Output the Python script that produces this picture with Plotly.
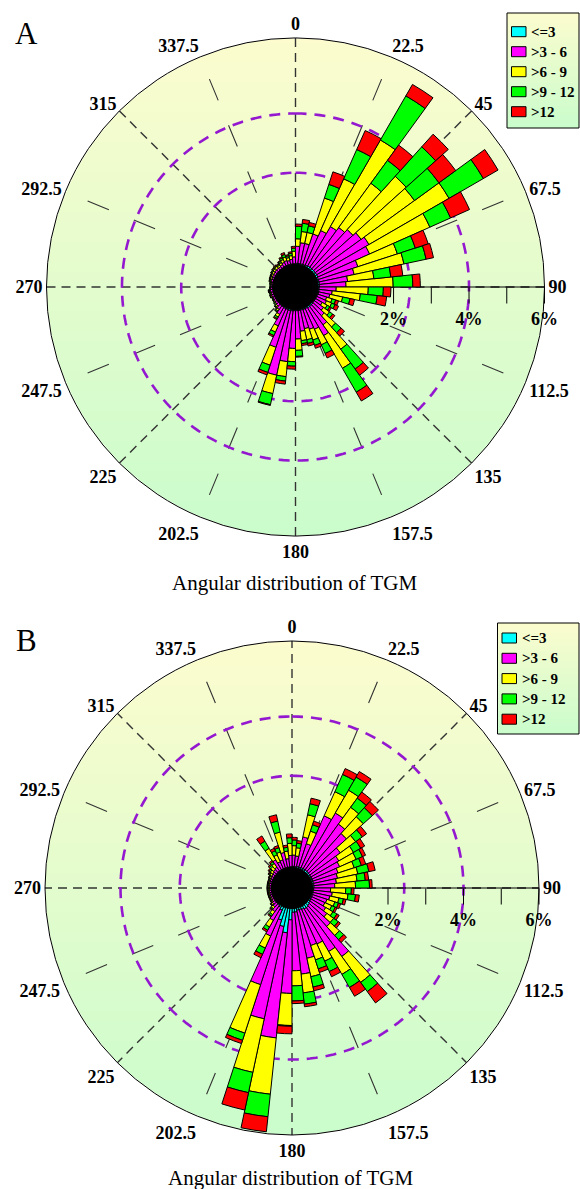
import zlib, struct, base64
import numpy as np
import plotly.graph_objects as go

W, H = 580, 1189

# ---------------- data (percent of observations per 6-degree sector) ----------------
theta = [3, 9, 15, 21, 27, 33, 39, 45, 51, 57, 63, 69, 75, 81, 87,
         93, 99, 105, 111, 117, 123, 129, 135, 141, 147, 153, 159, 165, 171, 177,
         183, 189, 195, 201, 207, 213, 219, 225, 231, 237, 243, 249, 255, 261, 267,
         273, 279, 285, 291, 297, 303, 309, 315, 321, 327, 333, 339, 345, 351, 357]

series_names = ["<=3", ">3 - 6", ">6 - 9", ">9 - 12", ">12"]
series_colors = ["#00FFFF", "#FF00FF", "#FFFF00", "#00FF00", "#FF0000"]

A_le3 = [.03, .03, .03, .03, .04, .05, .05, .05, .05, .05, .05, .04, .04, .04, .04,
         .03, .03, .03, .02, .02, .02, .02, .03, .04, .04, .03, .03, .03, .03, .03,
         .03, .04, .04, .03, .03, .02, .02, .01, .01, .01, .01, .01, .01, .01, .01,
         .01, .01, .01, .01, .01, .01, .01, .01, .01, .01, .02, .02, .02, .02, .02]
A_3_6 = [.45, .55, .55, .85, 1.0, 1.2, 1.3, 1.4, 1.5, 1.6, 1.5, 1.1, .95, .75, .7,
         .45, .35, .3, .25, .28, .2, .3, .4, .6, .85, .6, .55, .5, .55, .75,
         1.0, 1.35, 1.75, 1.05, .5, .22, .12, .08, .06, .05, .05, .06, .05, .06, .05,
         .04, .04, .05, .05, .06, .06, .07, .07, .06, .08, .1, .12, .1, .12, .18]
A_6_9 = [.2, .3, .3, 1.0, 1.5, 2.65, 1.45, 1.9, 1.75, 2.45, 1.75, 1.1, 1.35, .7, 1.25,
         .85, .75, .35, .15, .15, .15, .2, .4, .8, 1.0, .45, .3, .3, .25, .3,
         .35, .4, .5, .5, .18, .08, .05, .04, .03, .03, .02, .03, .03, .03, .02,
         .02, .03, .03, .04, .04, .05, .05, .06, .05, .06, .08, .1, .08, .1, .15]
A_9_12 = [.33, .22, .18, .38, .85, 1.35, .75, 1.05, .8, 1.05, .6, .5, .6, .45, .52,
          .4, .45, .2, .1, .1, .08, .1, .2, .65, .73, .25, .15, .1, .08, .16,
          .12, .12, .3, .2, .1, .05, .03, .02, .02, .01, .01, .01, .02, .02, .01,
          .01, .01, .02, .02, .02, .03, .03, .03, .03, .04, .05, .07, .05, .06, .08]
A_gt12 = [.06, .1, .09, .35, .55, .35, .5, .45, .55, .45, .55, .36, .2, .32, .2,
          .2, .25, .12, .08, .1, .05, .07, .12, .2, .27, .13, .08, .07, .05, .02,
          .08, .08, .02, .07, .04, .03, .01, .01, 0, 0, 0, .01, 0, .01, 0,
          0, 0, .01, .01, .01, .01, .02, .02, .02, .02, .03, .05, .03, .04, .05]

B_le3 = [.03, .03, .04, .04, .05, .05, .05, .05, .04, .04, .04, .04, .04, .04, .04,
         .03, .03, .03, .03, .03, .04, .05, .08, .1, .1, .08, .06, .06, .1, .1,
         .3, .65, .5, .35, .1, .05, .03, .02, .02, .01, .01, .01, .01, .01, .01,
         .01, .01, .01, .01, .01, .01, .01, .02, .02, .02, .02, .02, .02, .02, .02]
B_3_6 = [.3, .28, .8, .65, 1.5, 1.7, 1.5, 1.35, 1.0, .85, .8, .7, .65, .6, .55,
         .45, .5, .45, .4, .38, .45, .55, .75, 1.6, 1.3, 1.0, 1.0, 1.3, 1.65, 1.55,
         1.95, 2.8, 2.5, 1.8, .75, .4, .2, .12, .08, .06, .05, .05, .05, .05, .05,
         .05, .05, .05, .05, .06, .07, .08, .1, .12, .3, .2, .22, .4, .22, .3]
B_6_9 = [.25, .22, .6, .35, .7, .7, .55, .6, .5, .45, .48, .45, .55, .55, .55,
         .4, .42, .25, .22, .2, .22, .22, .32, .85, .7, .5, .4, .5, .5, .4,
         .85, 1.5, 1.45, 1.35, .35, .2, .1, .06, .04, .03, .03, .03, .03, .03, .03,
         .03, .03, .03, .03, .04, .06, .08, .1, .12, .35, .2, .22, .55, .2, .32]
B_9_12 = [.15, .12, .3, .18, .5, .4, .3, .32, .22, .22, .18, .2, .3, .22, .37,
          .15, .2, .12, .1, .1, .12, .15, .15, .3, .4, .3, .25, .28, .3, .4,
          .02, .6, .55, .2, .18, .1, .05, .03, .02, .02, .02, .02, .02, .02, .02,
          .02, .02, .02, .02, .02, .03, .04, .05, .06, .22, .12, .12, .3, .1, .15]
B_gt12 = [.07, .07, .15, .1, .17, .17, .2, .22, .14, .12, .09, .12, .17, .09, .07,
          .07, .1, .07, .06, .05, .07, .07, .1, .37, .27, .15, .1, .1, .07, .07,
          .2, .4, .47, .09, .1, .05, .03, .02, .01, .01, .01, .01, .01, .01, .01,
          .01, .01, .01, .01, .01, .02, .03, .03, .04, .16, .07, .06, .17, .06, .1]

angle_ticks = [0, 22.5, 45, 67.5, 90, 112.5, 135, 157.5, 180, 202.5, 225, 247.5,
               270, 292.5, 315, 337.5]
angle_labels = ["0", "22.5", "45", "67.5", "90", "112.5", "135", "157.5", "180",
                "202.5", "225", "247.5", "270", "292.5", "315", "337.5"]
radial_ticks = [2, 3, 4, 5, 6]
radial_labels = ["2%", "", "4%", "", "6%"]
guide_circles = [2.43, 4.0]
panel_letters = ["A", "B"]
x_title = "Angular distribution of TGM"

# ---------------- helpers ----------------
def png_uri(img):
    h, w, _ = img.shape
    raw = b"".join(b"\x00" + img[y].tobytes() for y in range(h))

    def chunk(tag, data):
        return (struct.pack(">I", len(data)) + tag + data +
                struct.pack(">I", zlib.crc32(tag + data) & 0xffffffff))

    png = (b"\x89PNG\r\n\x1a\n" +
           chunk(b"IHDR", struct.pack(">IIBBBBB", w, h, 8, 6, 0, 0, 0)) +
           chunk(b"IDAT", zlib.compress(raw, 9)) + chunk(b"IEND", b""))
    return "data:image/png;base64," + base64.b64encode(png).decode()


TOP = (252, 252, 206)
BOT = (202, 252, 204)


def gradient(w, h, circle):
    yy, xx = np.mgrid[0:h, 0:w] + 0.5
    t = yy / h
    img = np.zeros((h, w, 4), np.uint8)
    for k in range(3):
        img[..., k] = np.round(TOP[k] + (BOT[k] - TOP[k]) * t).astype(np.uint8)
    if circle:
        c = w / 2.0
        d = np.hypot(xx - c, yy - c)
        img[..., 3] = np.round(np.clip(c - d, 0, 1) * 255).astype(np.uint8)
    else:
        img[..., 3] = 255
    return img


circle_img = png_uri(gradient(500, 500, True))
box_img = png_uri(gradient(40, 120, False))


def px(x):
    return x / W


def py(y):
    return 1 - y / H


panels = [
    dict(under="polar", top="polar2", cx=295.5, cy=287, R=249, zero=22.6,
         data=[A_le3, A_3_6, A_6_9, A_9_12, A_gt12], legend=(507, 579, 13, 128, 31.7, 20.0),
         letter_y=34, title_y=583),
    dict(under="polar3", top="polar4", cx=292, cy=888, R=247, zero=20.5,
         data=[B_le3, B_3_6, B_6_9, B_9_12, B_gt12], legend=(497.5, 579, 623, 734, 638, 20.3),
         letter_y=640, title_y=1178),
]

fig = go.Figure()
shapes, annotations, images = [], [], []
layout_polars = {}
label_font = dict(family="Liberation Serif", size=18, color="black", weight="bold")

for p_i, P in enumerate(panels):
    scale = (P["R"] - P["zero"]) / 6.0      # px per percent
    rmin = -P["zero"] / scale
    under, top = P["under"], P["top"]

    # ---- underlay subplot: guide lines drawn beneath the bars ----
    rr, tt = [], []
    for a in range(0, 360, 45):
        rr += [rmin, 6, None]
        tt += [a, a, None]
    fig.add_trace(go.Scatterpolar(r=rr, theta=tt, mode="lines", subplot=under,
                                  line=dict(color="#333333", width=1.4, dash="9px,6px"),
                                  hoverinfo="skip", showlegend=False))
    r_out = (225 * P["R"] / 249 - P["zero"]) / scale
    rr, tt = [], []
    for a in [22.5, 67.5, 112.5, 157.5, 202.5, 247.5, 292.5, 337.5]:
        rr += [r_out, rmin, None]
        tt += [a, a, None]
    fig.add_trace(go.Scatterpolar(r=rr, theta=tt, mode="lines", subplot=under,
                                  line=dict(color="#333333", width=1.1, dash="23px,27px"),
                                  hoverinfo="skip", showlegend=False))
    circ_t = list(np.arange(0, 361, 2.0))
    for gc in guide_circles:
        fig.add_trace(go.Scatterpolar(r=[gc] * len(circ_t), theta=circ_t, mode="lines",
                                      subplot=under,
                                      line=dict(color="#9318CF", width=2.6, dash="11px,8px"),
                                      hoverinfo="skip", showlegend=False))

    # ---- top subplot: bars, core and axes ----
    for k in range(5):
        fig.add_trace(go.Barpolar(r=P["data"][k], theta=theta, width=6, subplot=top,
                                  name=series_names[k], showlegend=False,
                                  marker=dict(color=series_colors[k],
                                              line=dict(color="black", width=1))))
    fig.add_trace(go.Scatterpolar(r=[0] * len(circ_t), theta=circ_t, mode="lines",
                                  subplot=top, fill="toself", fillcolor="black",
                                  line=dict(color="black", width=1),
                                  hoverinfo="skip", showlegend=False))

    x0 = px(P["cx"] - P["R"]); x1 = px(P["cx"] + P["R"])
    y1 = py(P["cy"] - P["R"]); y0 = py(P["cy"] + P["R"])
    dom = dict(x=[x0, x1], y=[y0, y1])
    layout_polars[under] = dict(
        domain=dom, bgcolor="rgba(0,0,0,0)",
        angularaxis=dict(rotation=90, direction="clockwise", showgrid=False,
                         showline=False, ticks="", showticklabels=False),
        radialaxis=dict(range=[rmin, 6], showgrid=False, showline=False, ticks="",
                        showticklabels=False),
    )
    layout_polars[top] = dict(
        domain=dom, bgcolor="rgba(0,0,0,0)",
        barmode="stack", bargap=0,
        angularaxis=dict(rotation=90, direction="clockwise", tickmode="array",
                         tickvals=angle_ticks, ticktext=angle_labels, showgrid=False,
                         showline=True, linecolor="black", linewidth=1, ticks="",
                         layer="below traces", tickfont=label_font),
        radialaxis=dict(range=[rmin, 6], angle=0, tickangle=0, side="clockwise",
                        tickmode="array", tickvals=radial_ticks, ticktext=radial_labels,
                        ticks="outside", ticklen=16, tickcolor="black", tickwidth=1,
                        showgrid=False, showline=True, linecolor="black", linewidth=1,
                        layer="below traces", tickfont=label_font),
    )
    images.append(dict(source=circle_img, xref="paper", yref="paper",
                       x=x0, y=y1, sizex=x1 - x0, sizey=y1 - y0,
                       xanchor="left", yanchor="top", sizing="stretch", layer="below"))

    # ---- legend box ----
    lx0, lx1, ly0, ly1, first_y, step = P["legend"]
    images.append(dict(source=box_img, xref="paper", yref="paper",
                       x=px(lx0), y=py(ly0), sizex=px(lx1) - px(lx0), sizey=py(ly0) - py(ly1),
                       xanchor="left", yanchor="top", sizing="stretch", layer="below"))
    shapes.append(dict(type="rect", xref="paper", yref="paper",
                       x0=px(lx0), x1=px(lx1), y0=py(ly1), y1=py(ly0),
                       line=dict(color="black", width=1), fillcolor="rgba(0,0,0,0)"))
    for k in range(5):
        yc = first_y + k * step
        shapes.append(dict(type="rect", xref="paper", yref="paper",
                           x0=px(lx0 + 4.5), x1=px(lx0 + 19), y0=py(yc + 5), y1=py(yc - 5),
                           line=dict(color="black", width=1), fillcolor=series_colors[k]))
        annotations.append(dict(text=series_names[k], xref="paper", yref="paper",
                                x=px(lx0 + 22), y=py(yc), xanchor="left", yanchor="middle",
                                showarrow=False,
                                font=dict(family="Liberation Serif", size=15, color="black",
                                          weight="bold")))
    annotations.append(dict(text=panel_letters[p_i], xref="paper", yref="paper",
                            x=px(26), y=py(P["letter_y"]), xanchor="center", yanchor="middle",
                            showarrow=False,
                            font=dict(family="Liberation Serif", size=31, color="black")))
    annotations.append(dict(text=x_title, xref="paper", yref="paper",
                            x=px(P["cx"] - 1), y=py(P["title_y"]), xanchor="center",
                            yanchor="middle", showarrow=False,
                            font=dict(family="Liberation Serif", size=21, color="black")))

fig.update_layout(width=W, height=H, autosize=False,
                  margin=dict(l=0, r=0, t=0, b=0),
                  paper_bgcolor="white", plot_bgcolor="white",
                  showlegend=False, shapes=shapes, annotations=annotations, images=images,
                  **layout_polars)

fig.write_html("out.html", config={"displayModeBar": False},
               post_script="document.body.style.margin='0px';document.body.style.overflow='hidden';")
